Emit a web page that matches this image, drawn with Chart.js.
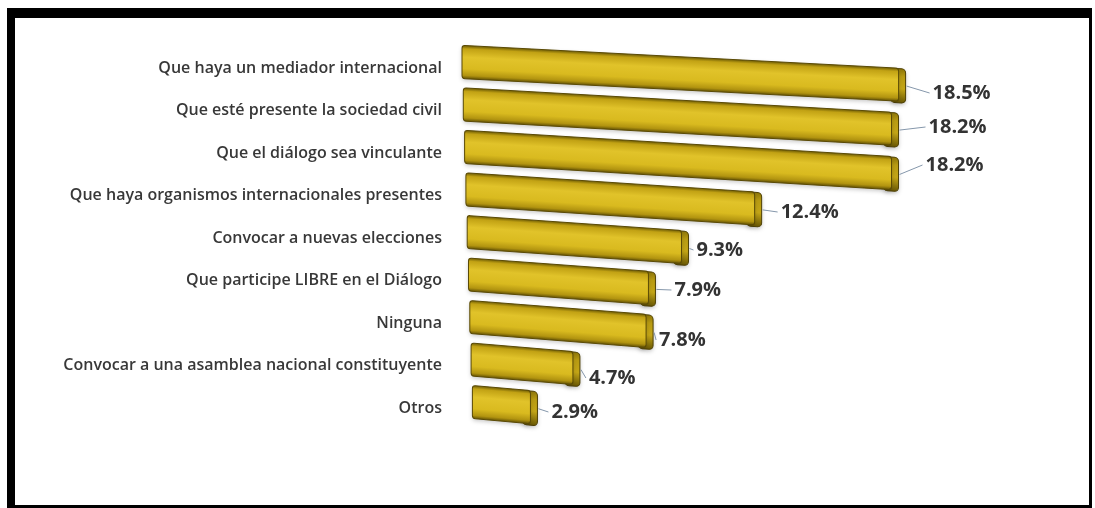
<!DOCTYPE html>
<html>
<head>
<meta charset="utf-8">
<script src="https://cdn.jsdelivr.net/npm/chart.js@4.4.0/dist/chart.umd.min.js"></script>
<style>
  html, body { margin:0; padding:0; background:#fff; }
  #wrap { position:relative; width:1095px; height:508px; overflow:hidden; }
  #c { position:absolute; left:0; top:0; }
  #frame { position:absolute; left:7px; top:8px; width:1085px; height:500px; box-sizing:border-box;
           border-style:solid; border-color:#000; border-width:10px 3px 3px 8px; pointer-events:none; }
</style>
</head>
<body>
<div id="wrap">
  <canvas id="c" width="1095" height="508"></canvas>
  <div id="frame"></div>
</div>
<script>
// ── DATA ─────────────────────────────────────────────────────────
const categories = [
  'Que haya un mediador internacional',
  'Que esté presente la sociedad civil',
  'Que el diálogo sea vinculante',
  'Que haya organismos internacionales presentes',
  'Convocar a nuevas elecciones',
  'Que participe LIBRE en el Diálogo',
  'Ninguna',
  'Convocar a una asamblea nacional constituyente',
  'Otros'
];
const values = [18.5, 18.2, 18.2, 12.4, 9.3, 7.9, 7.8, 4.7, 2.9];

// label nudges (px) from the bar end / category centre
const labelDx = [27, 30, 27, 19, 8, 19, 6, 9, 14];
const labelDy = [25, 16.5, 12, 16.5, 12, 9.5, 17, 12.5, 4];

const CAP = 7;
const geom = (el, i) => {
  const L = el.base + 1.3 * i, R = el.x;
  const s = 0.052 + 0.0045 * i;
  const h = el.height;
  const top = el.y - 6 - h / 2;
  return { L, R, s, h, top };
};

// ── 3D bars + value labels ───────────────────────────────────────
const bars3d = {
  id: 'bars3d',
  afterDatasetsDraw(chart) {
    const ctx = chart.ctx;
    const meta = chart.getDatasetMeta(0);
    meta.data.forEach((el, i) => {
      const g = geom(el, i);
      ctx.save();
      ctx.transform(1, g.s, 0, 1, 0, -g.s * g.L);

      // right end (side face), drawn first so the front overlaps it
      ctx.save();
      ctx.shadowColor = 'rgba(0,0,0,0.25)';
      ctx.shadowBlur = 4; ctx.shadowOffsetY = 2;
      const cg = ctx.createLinearGradient(0, g.top, 0, g.top + g.h + 1);
      cg.addColorStop(0, '#8a7307');
      cg.addColorStop(0.25, '#b89b12');
      cg.addColorStop(0.6, '#c3a516');
      cg.addColorStop(1, '#6c5a04');
      ctx.fillStyle = cg;
      ctx.beginPath(); ctx.roundRect(g.R - 8, g.top + 0.5, CAP + 8, g.h + 1, 4); ctx.fill();
      ctx.restore();
      ctx.strokeStyle = '#4f4105'; ctx.lineWidth = 1;
      ctx.beginPath(); ctx.roundRect(g.R - 8, g.top + 0.5, CAP + 8, g.h + 1, 4); ctx.stroke();

      // front face
      ctx.save();
      ctx.shadowColor = 'rgba(0,0,0,0.22)';
      ctx.shadowBlur = 4; ctx.shadowOffsetY = 2;
      const grad = ctx.createLinearGradient(0, g.top, 0, g.top + g.h);
      grad.addColorStop(0, '#6f5d05');
      grad.addColorStop(0.1, '#c2a214');
      grad.addColorStop(0.35, '#e1c32a');
      grad.addColorStop(0.7, '#d9ba1f');
      grad.addColorStop(0.9, '#b29410');
      grad.addColorStop(1, '#665404');
      ctx.fillStyle = grad;
      ctx.beginPath();
      ctx.roundRect(g.L, g.top, g.R - g.L, g.h, 3);
      ctx.fill();
      ctx.restore();
      ctx.strokeStyle = '#5b4b06'; ctx.lineWidth = 1;
      ctx.beginPath(); ctx.roundRect(g.L, g.top, g.R - g.L, g.h, 3); ctx.stroke();
      ctx.restore();

      // leader + value
      const ex = g.R + CAP;
      const ey = g.top + g.s * (ex - g.L) + g.h / 2 + 1;
      const lx = ex + labelDx[i], ly = el.y + labelDy[i];
      ctx.save();
      ctx.strokeStyle = '#8597ab'; ctx.lineWidth = 1;
      ctx.beginPath(); ctx.moveTo(ex + 1, ey); ctx.lineTo(lx - 3, ly); ctx.stroke();
      ctx.fillStyle = '#333';
      ctx.font = '700 20px "Open Sans"';
      ctx.textAlign = 'left'; ctx.textBaseline = 'middle';
      ctx.fillText(values[i].toFixed(1) + '%', lx, ly);
      ctx.restore();
    });
  }
};

new Chart(document.getElementById('c'), {
  type: 'bar',
  data: {
    labels: categories,
    datasets: [{ data: values, backgroundColor: 'rgba(0,0,0,0)', borderWidth: 0,
                 barPercentage: 0.78, categoryPercentage: 1 }]
  },
  options: {
    indexAxis: 'y',
    responsive: false,
    animation: false,
    layout: { padding: { top: 46.75, bottom: 78.75, left: 0, right: 43 } },
    plugins: { legend: { display: false }, tooltip: { enabled: false } },
    scales: {
      x: { display: false, min: 0, max: 25 },
      y: {
        afterFit: s => { s.width = 462; },
        grid: { display: false, drawTicks: false },
        border: { display: false },
        ticks: { color: '#383838', padding: 20, font: { family: 'Open Sans', size: 16, weight: '600' } }
      }
    }
  },
  plugins: [bars3d]
});
</script>
</body>
</html>
